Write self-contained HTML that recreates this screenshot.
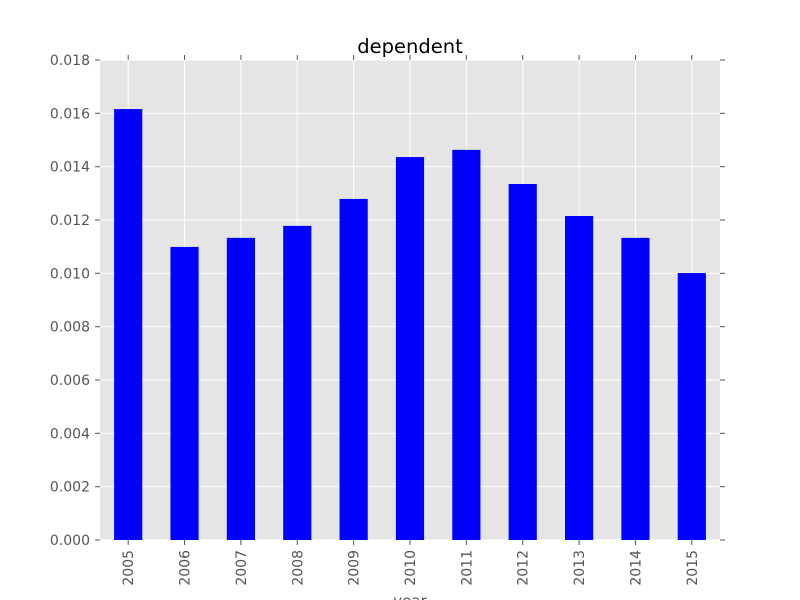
<!DOCTYPE html>
<html><head><meta charset="utf-8"><style>
body{margin:0;background:#fff;}
svg{display:block;font-family:"DejaVu Sans","Liberation Sans",sans-serif;}
</style></head><body>
<svg id="chart" width="800" height="600"></svg>
<script>
const categories=["2005","2006","2007","2008","2009","2010","2011","2012","2013","2014","2015"];
const values=[0.01616,0.01099,0.01133,0.01178,0.01279,0.01436,0.01463,0.01335,0.01215,0.01133,0.01001];
const yTicks=[0,0.002,0.004,0.006,0.008,0.010,0.012,0.014,0.016,0.018];
const NS="http://www.w3.org/2000/svg";
const svg=document.getElementById('chart');
const L=100,R=720,T=60,B=540,yMax=0.018;
const band=(R-L)/categories.length;
function xC(i){return L+band*(i+0.5);}
function yS(v){return B-(v/yMax)*(B-T);}
function mk(tag,attrs,parent){const e=document.createElementNS(NS,tag);for(const k in attrs)e.setAttribute(k,attrs[k]);(parent||svg).appendChild(e);return e;}
const bg=mk('rect',{x:L,y:T,width:R-L,height:B-T,fill:'#e5e5e5'});


yTicks.forEach(t=>{
  const y=yS(t);
  const g=mk('line',{x1:L,x2:R,y1:y,y2:y,stroke:'#fff','stroke-width':1});
  
  
  mk('line',{x1:L-5,x2:L,y1:y,y2:y,stroke:'#555'});
  mk('line',{x1:R,x2:R+5,y1:y,y2:y,stroke:'#555'});
  const tx=mk('text',{x:L-10,y:y+5,'text-anchor':'end','font-size':14,fill:'#555'});
  tx.textContent=t.toFixed(3);
  
  
});
categories.forEach((c,i)=>{
  const x=xC(i);
  const g=mk('line',{x1:x,x2:x,y1:T,y2:B,stroke:'#fff','stroke-width':1});
  
  
});
categories.forEach((c,i)=>{
  const x=xC(i),w=band*0.5;
  const r=mk('rect',{x:x-w/2,y:yS(values[i]),width:w,height:B-yS(values[i]),fill:'#0000ff'});
  
  
  mk('line',{x1:x,x2:x,y1:B,y2:B+5,stroke:'#555'});
  mk('line',{x1:x,x2:x,y1:T-5,y2:T,stroke:'#555'});
  const tx=mk('text',{x:0,y:0,'text-anchor':'end','font-size':14,fill:'#555',transform:`translate(${x+5},${B+10}) rotate(-90)`});
  tx.textContent=c;
  
  
});
const title=mk('text',{x:410,y:53,'text-anchor':'middle','font-size':19.5,fill:'#000'});
title.textContent='dependent';


const xl=mk('text',{x:410,y:606,'text-anchor':'middle','font-size':15,fill:'#555'});
xl.textContent='year';


</script>
</body></html>
